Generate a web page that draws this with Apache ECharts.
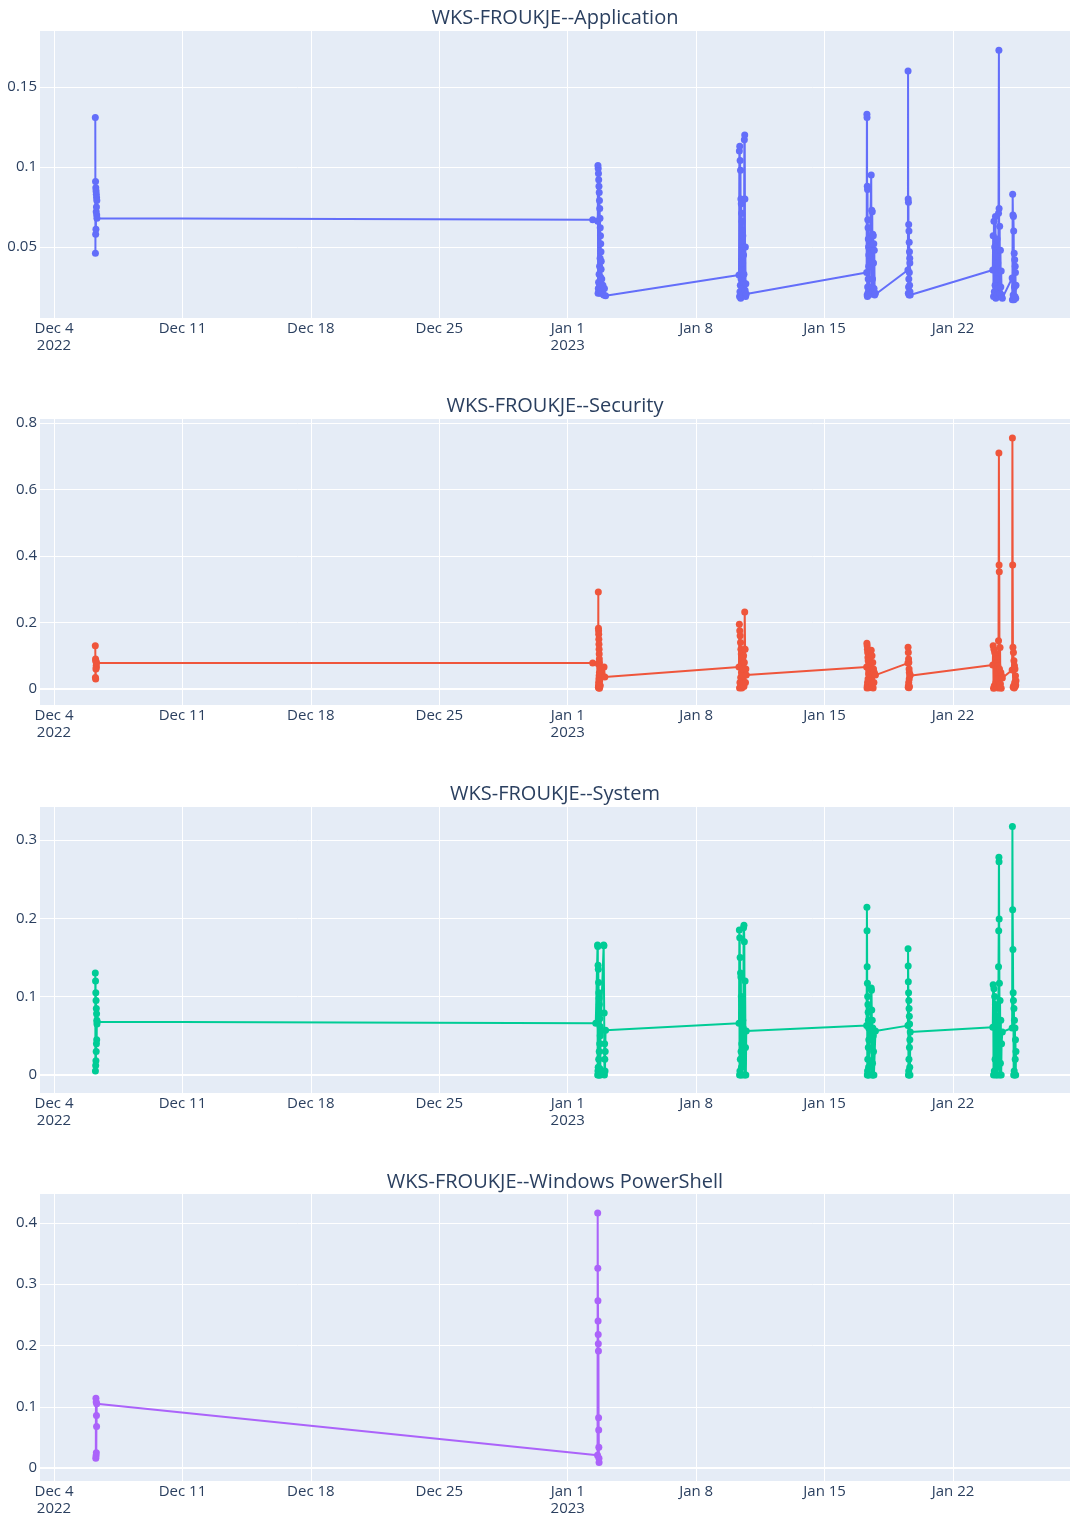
<!DOCTYPE html>
<html>
<head>
<meta charset="utf-8">
<script src="https://cdn.jsdelivr.net/npm/echarts@6/dist/echarts.min.js"></script>
<style>html,body{margin:0;padding:0;background:#fff;}#chart{width:1070px;height:1517px;}</style>
</head>
<body>
<div id="chart"></div>
<script>
// ---------------- DATA ----------------
const seriesNames = ["WKS-FROUKJE--Application", "WKS-FROUKJE--Security", "WKS-FROUKJE--System", "WKS-FROUKJE--Windows PowerShell"];
const seriesColors = ["#636efa", "#EF553B", "#00cc96", "#ab63fa"];

const xTickDates = ["2022-12-04 00:00", "2022-12-11 00:00", "2022-12-18 00:00", "2022-12-25 00:00", "2023-01-01 00:00", "2023-01-08 00:00", "2023-01-15 00:00", "2023-01-22 00:00"];
const xTickLabels = ["Dec 4\n2022", "Dec 11", "Dec 18", "Dec 25", "Jan 1\n2023", "Jan 8", "Jan 15", "Jan 22"];
const xRange = ["2022-12-03 05:40", "2023-01-28 09:00"];

const appTicks = [0.05, 0.1, 0.15];
const secTicks = [0, 0.2, 0.4, 0.6, 0.8];
const sysTicks = [0, 0.1, 0.2, 0.3];
const psTicks = [0, 0.1, 0.2, 0.3, 0.4];
const yRanges = [[0.0056, 0.185], [-0.048, 0.812], [-0.023, 0.342], [-0.021, 0.447]];

const appPoints = [
 ["2022-12-06 06:00",0.131],["2022-12-06 06:10",0.046],["2022-12-06 06:20",0.091],["2022-12-06 06:30",0.058],["2022-12-06 06:40",0.087],
 ["2022-12-06 06:50",0.061],["2022-12-06 07:00",0.085],["2022-12-06 07:10",0.072],["2022-12-06 07:20",0.083],["2022-12-06 07:30",0.075],
 ["2022-12-06 07:40",0.081],["2022-12-06 07:50",0.070],["2022-12-06 08:00",0.079],["2022-12-06 08:10",0.068],
 ["2023-01-02 08:40",0.067],["2023-01-02 15:20",0.066],
 ["2023-01-02 15:30",0.101],["2023-01-02 15:40",0.021],["2023-01-02 15:50",0.099],["2023-01-02 16:00",0.024],["2023-01-02 16:10",0.096],
 ["2023-01-02 16:20",0.028],["2023-01-02 16:30",0.092],["2023-01-02 16:40",0.022],["2023-01-02 16:50",0.088],["2023-01-02 17:00",0.033],
 ["2023-01-02 17:10",0.084],["2023-01-02 17:20",0.025],["2023-01-02 17:30",0.079],["2023-01-02 17:40",0.038],["2023-01-02 17:50",0.074],
 ["2023-01-02 18:00",0.021],["2023-01-02 18:10",0.068],["2023-01-02 18:20",0.043],["2023-01-02 18:30",0.062],["2023-01-02 18:40",0.026],
 ["2023-01-02 18:50",0.057],["2023-01-02 19:00",0.031],["2023-01-02 19:10",0.052],["2023-01-02 19:20",0.022],["2023-01-02 19:30",0.047],
 ["2023-01-02 19:40",0.036],["2023-01-02 19:50",0.041],["2023-01-02 20:00",0.023],["2023-01-02 20:30",0.030],["2023-01-02 21:00",0.021],
 ["2023-01-02 22:00",0.026],["2023-01-02 23:00",0.020],["2023-01-03 00:00",0.024],["2023-01-03 01:30",0.0195],
 ["2023-01-10 08:00",0.0325],["2023-01-10 08:30",0.110],["2023-01-10 08:45",0.019],["2023-01-10 09:00",0.113],["2023-01-10 09:15",0.022],
 ["2023-01-10 09:30",0.104],["2023-01-10 09:45",0.026],["2023-01-10 10:00",0.098],["2023-01-10 10:15",0.018],["2023-01-10 10:30",0.080],
 ["2023-01-10 10:45",0.030],["2023-01-10 11:00",0.077],["2023-01-10 11:15",0.021],["2023-01-10 11:30",0.071],["2023-01-10 11:45",0.035],
 ["2023-01-10 12:00",0.066],["2023-01-10 12:15",0.024],["2023-01-10 12:30",0.060],["2023-01-10 12:45",0.040],["2023-01-10 13:00",0.057],
 ["2023-01-10 13:15",0.020],["2023-01-10 13:30",0.050],["2023-01-10 13:45",0.028],["2023-01-10 14:00",0.045],["2023-01-10 14:30",0.033],
 ["2023-01-10 15:00",0.117],["2023-01-10 15:30",0.120],["2023-01-10 15:45",0.080],["2023-01-10 16:00",0.023],["2023-01-10 16:20",0.050],
 ["2023-01-10 16:40",0.019],["2023-01-10 17:00",0.027],["2023-01-10 17:30",0.0206],
 ["2023-01-17 07:00",0.034],["2023-01-17 07:20",0.133],["2023-01-17 07:30",0.131],["2023-01-17 07:40",0.020],["2023-01-17 07:50",0.088],
 ["2023-01-17 08:00",0.019],["2023-01-17 08:10",0.086],["2023-01-17 08:20",0.025],["2023-01-17 08:30",0.067],["2023-01-17 08:40",0.021],
 ["2023-01-17 08:50",0.062],["2023-01-17 09:00",0.030],["2023-01-17 09:10",0.055],["2023-01-17 09:20",0.022],["2023-01-17 09:30",0.050],
 ["2023-01-17 09:40",0.038],["2023-01-17 09:50",0.045],["2023-01-17 10:00",0.020],
 ["2023-01-17 13:00",0.095],["2023-01-17 13:20",0.021],["2023-01-17 13:40",0.073],["2023-01-17 14:00",0.025],["2023-01-17 14:20",0.072],
 ["2023-01-17 14:40",0.030],["2023-01-17 15:00",0.058],["2023-01-17 15:20",0.022],["2023-01-17 15:40",0.057],["2023-01-17 16:00",0.040],
 ["2023-01-17 16:20",0.052],["2023-01-17 16:40",0.024],["2023-01-17 17:00",0.048],["2023-01-17 17:30",0.020],["2023-01-17 18:30",0.021],
 ["2023-01-19 13:00",0.0356],["2023-01-19 13:10",0.160],["2023-01-19 13:20",0.080],["2023-01-19 13:30",0.021],["2023-01-19 13:40",0.078],
 ["2023-01-19 13:50",0.025],["2023-01-19 14:00",0.064],["2023-01-19 14:10",0.030],["2023-01-19 14:20",0.060],["2023-01-19 14:30",0.020],
 ["2023-01-19 14:40",0.053],["2023-01-19 14:50",0.034],["2023-01-19 15:00",0.047],["2023-01-19 15:10",0.026],["2023-01-19 15:20",0.043],
 ["2023-01-19 15:30",0.040],["2023-01-19 15:40",0.022],["2023-01-19 16:00",0.020],
 ["2023-01-24 04:00",0.0356],["2023-01-24 04:30",0.057],["2023-01-24 05:00",0.019],["2023-01-24 05:30",0.066],["2023-01-24 06:00",0.022],
 ["2023-01-24 06:30",0.050],["2023-01-24 07:00",0.026],["2023-01-24 07:30",0.069],["2023-01-24 08:00",0.018],["2023-01-24 08:30",0.045],
 ["2023-01-24 09:00",0.030],["2023-01-24 09:30",0.055],["2023-01-24 10:00",0.020],["2023-01-24 10:30",0.040],["2023-01-24 11:00",0.024],
 ["2023-01-24 11:30",0.071],["2023-01-24 12:00",0.173],["2023-01-24 12:15",0.074],["2023-01-24 12:30",0.019],["2023-01-24 13:00",0.063],
 ["2023-01-24 13:30",0.021],["2023-01-24 14:00",0.048],["2023-01-24 14:30",0.025],["2023-01-24 15:00",0.035],["2023-01-24 15:30",0.020],
 ["2023-01-24 16:30",0.018],
 ["2023-01-25 05:20",0.0306],["2023-01-25 05:40",0.017],["2023-01-25 06:00",0.083],["2023-01-25 06:20",0.070],["2023-01-25 06:40",0.020],
 ["2023-01-25 07:00",0.069],["2023-01-25 07:20",0.060],["2023-01-25 07:40",0.017],["2023-01-25 08:00",0.046],["2023-01-25 08:20",0.025],
 ["2023-01-25 08:40",0.042],["2023-01-25 09:00",0.019],["2023-01-25 09:20",0.038],["2023-01-25 09:40",0.034],["2023-01-25 10:00",0.018],
 ["2023-01-25 10:20",0.026]
];

const secPoints = [
 ["2022-12-06 06:00",0.130],["2022-12-06 06:10",0.035],["2022-12-06 06:20",0.090],["2022-12-06 06:30",0.030],["2022-12-06 06:40",0.085],
 ["2022-12-06 06:50",0.060],["2022-12-06 07:00",0.082],["2022-12-06 07:10",0.070],["2022-12-06 07:20",0.065],["2022-12-06 07:30",0.078],
 ["2023-01-02 08:40",0.078],["2023-01-02 15:50",0.076],
 ["2023-01-02 16:00",0.292],["2023-01-02 16:05",0.005],["2023-01-02 16:10",0.183],["2023-01-02 16:15",0.010],["2023-01-02 16:20",0.175],
 ["2023-01-02 16:25",0.020],["2023-01-02 16:30",0.165],["2023-01-02 16:35",0.003],["2023-01-02 16:40",0.150],["2023-01-02 16:45",0.030],
 ["2023-01-02 16:50",0.135],["2023-01-02 16:55",0.008],["2023-01-02 17:00",0.120],["2023-01-02 17:05",0.040],["2023-01-02 17:10",0.105],
 ["2023-01-02 17:15",0.015],["2023-01-02 17:20",0.090],["2023-01-02 17:25",0.050],["2023-01-02 17:30",0.080],["2023-01-02 17:35",0.002],
 ["2023-01-02 17:40",0.070],["2023-01-02 17:45",0.025],["2023-01-02 17:50",0.060],["2023-01-02 17:55",0.012],["2023-01-02 18:00",0.045],
 ["2023-01-02 18:30",0.010],["2023-01-02 23:30",0.066],["2023-01-03 00:30",0.036],
 ["2023-01-10 08:00",0.066],["2023-01-10 08:30",0.195],["2023-01-10 08:45",0.003],["2023-01-10 09:00",0.175],["2023-01-10 09:15",0.020],
 ["2023-01-10 09:30",0.160],["2023-01-10 09:45",0.005],["2023-01-10 10:00",0.140],["2023-01-10 10:15",0.035],["2023-01-10 10:30",0.120],
 ["2023-01-10 10:45",0.010],["2023-01-10 11:00",0.105],["2023-01-10 11:15",0.050],["2023-01-10 11:30",0.095],["2023-01-10 11:45",0.003],
 ["2023-01-10 12:00",0.085],["2023-01-10 12:15",0.025],["2023-01-10 12:30",0.075],["2023-01-10 12:45",0.015],["2023-01-10 13:00",0.060],
 ["2023-01-10 13:30",0.040],["2023-01-10 14:00",0.100],["2023-01-10 14:30",0.008],["2023-01-10 15:00",0.080],["2023-01-10 15:30",0.232],
 ["2023-01-10 16:00",0.120],["2023-01-10 16:30",0.020],["2023-01-10 17:00",0.060],["2023-01-10 17:30",0.042],
 ["2023-01-17 07:00",0.066],["2023-01-17 07:20",0.138],["2023-01-17 07:30",0.003],["2023-01-17 07:40",0.130],["2023-01-17 07:50",0.010],
 ["2023-01-17 08:00",0.120],["2023-01-17 08:10",0.020],["2023-01-17 08:20",0.110],["2023-01-17 08:30",0.005],["2023-01-17 08:40",0.095],
 ["2023-01-17 08:50",0.030],["2023-01-17 09:00",0.085],["2023-01-17 09:10",0.012],["2023-01-17 09:20",0.070],["2023-01-17 09:30",0.045],
 ["2023-01-17 09:40",0.055],["2023-01-17 10:00",0.004],
 ["2023-01-17 13:00",0.117],["2023-01-17 13:30",0.005],["2023-01-17 14:00",0.100],["2023-01-17 14:30",0.015],["2023-01-17 15:00",0.080],
 ["2023-01-17 15:30",0.003],["2023-01-17 16:00",0.060],["2023-01-17 16:30",0.020],["2023-01-17 17:00",0.050],["2023-01-17 18:30",0.042],
 ["2023-01-19 13:00",0.078],["2023-01-19 13:10",0.126],["2023-01-19 13:20",0.005],["2023-01-19 13:30",0.110],["2023-01-19 13:40",0.010],
 ["2023-01-19 13:50",0.090],["2023-01-19 14:00",0.020],["2023-01-19 14:10",0.080],["2023-01-19 14:20",0.004],["2023-01-19 14:30",0.060],
 ["2023-01-19 14:40",0.030],["2023-01-19 14:50",0.050],["2023-01-19 15:00",0.008],["2023-01-19 15:20",0.040],["2023-01-19 16:00",0.042],
 ["2023-01-24 04:00",0.072],["2023-01-24 04:30",0.130],["2023-01-24 05:00",0.002],["2023-01-24 05:30",0.120],["2023-01-24 06:00",0.010],
 ["2023-01-24 06:30",0.110],["2023-01-24 07:00",0.004],["2023-01-24 07:30",0.100],["2023-01-24 08:00",0.020],["2023-01-24 08:30",0.090],
 ["2023-01-24 09:00",0.005],["2023-01-24 09:30",0.080],["2023-01-24 10:00",0.030],["2023-01-24 10:30",0.070],["2023-01-24 11:00",0.003],
 ["2023-01-24 11:30",0.145],["2023-01-24 12:00",0.710],["2023-01-24 12:15",0.373],["2023-01-24 12:30",0.353],["2023-01-24 12:45",0.060],
 ["2023-01-24 13:00",0.008],["2023-01-24 13:30",0.125],["2023-01-24 14:00",0.015],["2023-01-24 14:30",0.050],["2023-01-24 15:00",0.002],
 ["2023-01-24 15:30",0.040],["2023-01-24 16:30",0.033],
 ["2023-01-25 05:20",0.057],["2023-01-25 05:40",0.755],["2023-01-25 06:00",0.373],["2023-01-25 06:20",0.126],["2023-01-25 06:40",0.005],
 ["2023-01-25 07:00",0.110],["2023-01-25 07:20",0.010],["2023-01-25 07:40",0.085],["2023-01-25 08:00",0.003],["2023-01-25 08:20",0.070],
 ["2023-01-25 08:40",0.020],["2023-01-25 09:00",0.060],["2023-01-25 09:20",0.008],["2023-01-25 09:40",0.040],["2023-01-25 10:00",0.012],
 ["2023-01-25 10:20",0.025]
];

const sysPoints = [
 ["2022-12-06 06:00",0.130],["2022-12-06 06:10",0.005],["2022-12-06 06:20",0.120],["2022-12-06 06:30",0.012],["2022-12-06 06:40",0.105],
 ["2022-12-06 06:50",0.018],["2022-12-06 07:00",0.095],["2022-12-06 07:10",0.030],["2022-12-06 07:20",0.085],["2022-12-06 07:30",0.040],
 ["2022-12-06 07:40",0.078],["2022-12-06 07:50",0.045],["2022-12-06 08:00",0.070],["2022-12-06 08:10",0.065],["2022-12-06 08:20",0.068],
 ["2023-01-02 12:40",0.066],
 ["2023-01-02 15:00",0.166],["2023-01-02 15:10",0.000],["2023-01-02 15:20",0.164],["2023-01-02 15:30",0.005],["2023-01-02 15:40",0.140],
 ["2023-01-02 15:50",0.010],["2023-01-02 16:00",0.135],["2023-01-02 16:10",0.000],["2023-01-02 16:20",0.118],["2023-01-02 16:30",0.020],
 ["2023-01-02 16:40",0.105],["2023-01-02 16:50",0.003],["2023-01-02 17:00",0.098],["2023-01-02 17:10",0.030],["2023-01-02 17:20",0.090],
 ["2023-01-02 17:30",0.000],["2023-01-02 17:40",0.080],["2023-01-02 17:50",0.040],["2023-01-02 18:00",0.072],["2023-01-02 18:10",0.008],
 ["2023-01-02 18:20",0.062],["2023-01-02 18:30",0.050],["2023-01-02 18:40",0.000],["2023-01-02 18:50",0.055],
 ["2023-01-02 23:00",0.166],["2023-01-02 23:20",0.165],["2023-01-02 23:40",0.079],["2023-01-03 00:00",0.000],["2023-01-03 00:15",0.040],
 ["2023-01-03 00:30",0.020],["2023-01-03 00:45",0.005],["2023-01-03 01:00",0.030],["2023-01-03 01:30",0.057],
 ["2023-01-10 08:00",0.066],["2023-01-10 08:30",0.185],["2023-01-10 08:45",0.000],["2023-01-10 09:00",0.175],["2023-01-10 09:15",0.005],
 ["2023-01-10 09:30",0.150],["2023-01-10 09:45",0.020],["2023-01-10 10:00",0.130],["2023-01-10 10:15",0.000],["2023-01-10 10:30",0.125],
 ["2023-01-10 10:45",0.030],["2023-01-10 11:00",0.100],["2023-01-10 11:15",0.010],["2023-01-10 11:30",0.095],["2023-01-10 11:45",0.040],
 ["2023-01-10 12:00",0.090],["2023-01-10 12:15",0.000],["2023-01-10 12:30",0.080],["2023-01-10 12:45",0.050],["2023-01-10 13:00",0.070],
 ["2023-01-10 13:15",0.015],["2023-01-10 13:30",0.060],["2023-01-10 13:45",0.025],["2023-01-10 14:00",0.188],["2023-01-10 14:30",0.191],
 ["2023-01-10 15:00",0.170],["2023-01-10 15:30",0.000],["2023-01-10 16:00",0.120],["2023-01-10 16:30",0.035],["2023-01-10 17:00",0.000],
 ["2023-01-10 17:30",0.056],
 ["2023-01-17 07:00",0.063],["2023-01-17 07:20",0.214],["2023-01-17 07:30",0.184],["2023-01-17 07:40",0.138],["2023-01-17 07:50",0.000],
 ["2023-01-17 08:00",0.117],["2023-01-17 08:10",0.005],["2023-01-17 08:20",0.100],["2023-01-17 08:30",0.020],["2023-01-17 08:40",0.090],
 ["2023-01-17 08:50",0.000],["2023-01-17 09:00",0.080],["2023-01-17 09:10",0.035],["2023-01-17 09:20",0.070],["2023-01-17 09:30",0.010],
 ["2023-01-17 09:40",0.060],["2023-01-17 09:50",0.045],["2023-01-17 10:00",0.000],
 ["2023-01-17 13:00",0.111],["2023-01-17 13:20",0.108],["2023-01-17 13:40",0.083],["2023-01-17 14:00",0.000],["2023-01-17 14:20",0.070],
 ["2023-01-17 14:40",0.015],["2023-01-17 15:00",0.060],["2023-01-17 15:20",0.000],["2023-01-17 15:40",0.050],["2023-01-17 16:00",0.030],
 ["2023-01-17 16:30",0.000],["2023-01-17 18:30",0.056],
 ["2023-01-19 13:00",0.063],["2023-01-19 13:10",0.161],["2023-01-19 13:20",0.139],["2023-01-19 13:30",0.119],["2023-01-19 13:40",0.000],
 ["2023-01-19 13:50",0.105],["2023-01-19 14:00",0.005],["2023-01-19 14:10",0.095],["2023-01-19 14:20",0.020],["2023-01-19 14:30",0.085],
 ["2023-01-19 14:40",0.000],["2023-01-19 14:50",0.075],["2023-01-19 15:00",0.035],["2023-01-19 15:10",0.065],["2023-01-19 15:20",0.010],
 ["2023-01-19 15:30",0.045],["2023-01-19 15:40",0.000],["2023-01-19 16:00",0.055],
 ["2023-01-24 04:00",0.061],["2023-01-24 04:30",0.115],["2023-01-24 05:00",0.000],["2023-01-24 05:30",0.110],["2023-01-24 06:00",0.005],
 ["2023-01-24 06:30",0.100],["2023-01-24 07:00",0.020],["2023-01-24 07:30",0.090],["2023-01-24 08:00",0.000],["2023-01-24 08:30",0.085],
 ["2023-01-24 09:00",0.030],["2023-01-24 09:30",0.075],["2023-01-24 10:00",0.000],["2023-01-24 10:30",0.065],["2023-01-24 11:00",0.010],
 ["2023-01-24 11:30",0.138],["2023-01-24 11:45",0.184],["2023-01-24 12:00",0.278],["2023-01-24 12:10",0.272],["2023-01-24 12:20",0.199],
 ["2023-01-24 12:40",0.117],["2023-01-24 13:00",0.000],["2023-01-24 13:30",0.095],["2023-01-24 14:00",0.015],["2023-01-24 14:30",0.070],
 ["2023-01-24 15:00",0.000],["2023-01-24 15:30",0.040],["2023-01-24 16:30",0.055],
 ["2023-01-25 05:20",0.060],["2023-01-25 05:40",0.317],["2023-01-25 06:00",0.211],["2023-01-25 06:20",0.160],["2023-01-25 06:40",0.105],
 ["2023-01-25 07:00",0.095],["2023-01-25 07:20",0.000],["2023-01-25 07:40",0.085],["2023-01-25 08:00",0.005],["2023-01-25 08:20",0.070],
 ["2023-01-25 08:40",0.000],["2023-01-25 09:00",0.060],["2023-01-25 09:20",0.020],["2023-01-25 09:40",0.045],["2023-01-25 10:00",0.000],
 ["2023-01-25 10:20",0.030]
];

const psPoints = [
 ["2022-12-06 06:40",0.016],["2022-12-06 06:50",0.114],["2022-12-06 07:00",0.020],["2022-12-06 07:10",0.108],["2022-12-06 07:20",0.025],
 ["2022-12-06 07:30",0.086],["2022-12-06 07:40",0.068],["2022-12-06 07:50",0.105],
 ["2023-01-02 15:00",0.021],["2023-01-02 15:10",0.416],["2023-01-02 15:20",0.326],["2023-01-02 15:30",0.273],["2023-01-02 15:40",0.240],
 ["2023-01-02 15:50",0.218],["2023-01-02 16:00",0.203],["2023-01-02 16:10",0.191],["2023-01-02 16:20",0.082],["2023-01-02 16:30",0.062],
 ["2023-01-02 16:40",0.034],["2023-01-02 16:50",0.016],["2023-01-02 17:00",0.009]
];

// ---------------- BUILD ----------------
const T = s => Date.parse(s.replace(' ', 'T') + ':00Z');
const allPoints = [appPoints, secPoints, sysPoints, psPoints];
const allTicks = [appTicks, secTicks, sysTicks, psTicks];
const xTickValues = xTickDates.map(T);
const labelByValue = {};
xTickValues.forEach((v, i) => { labelByValue[v] = xTickLabels[i]; });

const gridTops = [31, 419, 807, 1194];
const gridHeights = [287, 286, 286, 288];
const titleCenters = [17, 405, 793, 1181];
const FONT = '"Open Sans", "Noto Sans", sans-serif';
const TXT = '#2a3f5f';

const grids = [], xAxes = [], yAxes = [], series = [], titles = [];
for (let i = 0; i < 4; i++) {
  grids.push({ left: 40, right: 0, top: gridTops[i], height: gridHeights[i], show: true, backgroundColor: '#E5ECF6', borderWidth: 0 });
  xAxes.push({
    type: 'value', gridIndex: i, min: T(xRange[0]), max: T(xRange[1]),
    axisLine: { show: false }, axisTick: { show: false, customValues: xTickValues },
    axisLabel: { customValues: xTickValues, formatter: v => labelByValue[v] || '', color: TXT, fontFamily: FONT, fontSize: 15, lineHeight: 17, margin: 2 },
    splitLine: { show: true, lineStyle: { color: '#ffffff', width: 1 } }
  });
  yAxes.push({
    type: 'value', gridIndex: i, min: yRanges[i][0], max: yRanges[i][1],
    axisLine: { show: false }, axisTick: { show: false, customValues: allTicks[i] },
    axisLabel: { customValues: allTicks[i], formatter: v => String(+(+v).toFixed(4)), color: TXT, fontFamily: FONT, fontSize: 15, margin: 3 },
    splitLine: { show: true, lineStyle: { color: '#ffffff', width: 1 } }
  });
  const s = {
    name: seriesNames[i], type: 'line', xAxisIndex: i, yAxisIndex: i,
    data: allPoints[i].map(p => [T(p[0]), p[1]]),
    symbol: 'circle', symbolSize: 7, showSymbol: true, showAllSymbol: true,
    lineStyle: { color: seriesColors[i], width: 2 },
    itemStyle: { color: seriesColors[i], borderWidth: 0 },
    animation: false, z: 3
  };
  if (i > 0) {
    s.markLine = { silent: true, symbol: 'none', z: 1, label: { show: false },
      lineStyle: { color: '#ffffff', width: 2, type: 'solid' }, data: [{ yAxis: 0 }] };
  }
  series.push(s);
  titles.push({ text: seriesNames[i], left: 550, textAlign: 'center', top: titleCenters[i] - 14,
    textStyle: { color: TXT, fontFamily: FONT, fontSize: 20, fontWeight: 'normal' } });
}

const chart = echarts.init(document.getElementById('chart'), null, { renderer: 'canvas' });
chart.setOption({ backgroundColor: '#ffffff', animation: false, title: titles, grid: grids, xAxis: xAxes, yAxis: yAxes, series: series });
</script>
</body>
</html>
